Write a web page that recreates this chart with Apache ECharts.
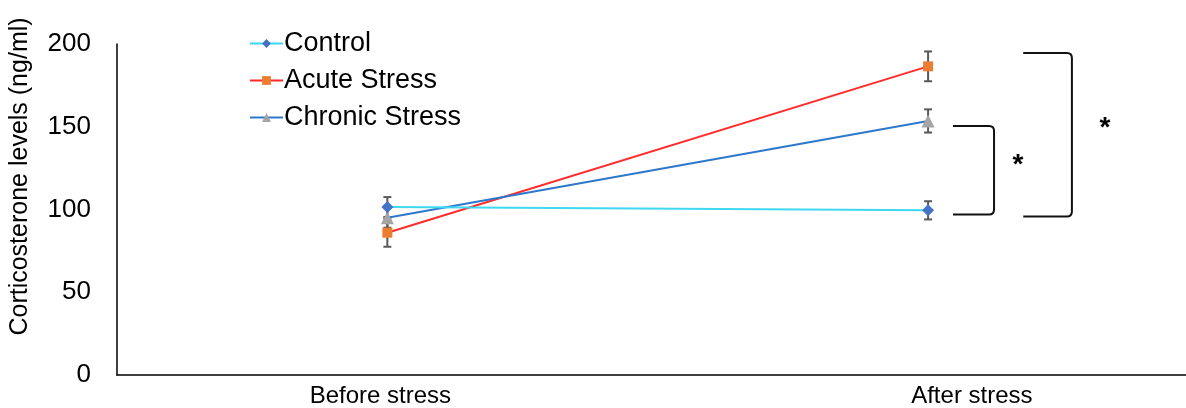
<!DOCTYPE html>
<html>
<head>
<meta charset="utf-8">
<script src="https://cdn.jsdelivr.net/npm/echarts@6/dist/echarts.min.js"></script>
<style>
  html, body { margin: 0; padding: 0; background: #fff; }
  #chart { width: 1186px; height: 408px; }
</style>
</head>
<body>
<div id="chart"></div>
<script>
// Time points (x = 0 before, x = 1 after)
const categories = ['Before stress', 'After stress'];

// Mean corticosterone (ng/ml) and error (±)
const controlMean = [101.5, 99.5];
const controlErr  = [6, 5.5];
const acuteMean   = [86, 186.5];
const acuteErr    = [8.5, 9];
const chronicMean = [95, 153.5];
const chronicErr  = [6, 7];

// Y-axis ticks
const yTicks = [0, 50, 100, 150, 200];

// Significance brackets: [xStart, xEnd, yTop, yBottom]
const bracketSpans = [
  [1.046, 1.122, 150.5, 97],
  [1.176, 1.266, 194.6, 95.8]
];
// Significance marks: [x, y, text]
const sigMarks = [
  [1.166, 127, '*'],
  [1.327, 149, '*']
];

const FONT = '"Liberation Sans", Arial, sans-serif';

function pts(arr) { return arr.map((v, i) => [i, v]); }
function errData(mean, err) { return mean.map((v, i) => [i, v - err[i], v + err[i]]); }

const chart = echarts.init(document.getElementById('chart'));

function errorBarSeries(name, mean, err) {
  return {
    type: 'custom',
    name: name,
    coordinateSystem: 'cartesian2d',
    silent: true,
    z: 1,
    encode: { x: 0, y: [1, 2] },
    data: errData(mean, err),
    renderItem: function (params, api) {
      const x = api.value(0);
      const top = api.coord([x, api.value(2)]);
      const bot = api.coord([x, api.value(1)]);
      const cap = 4;
      const style = { stroke: '#595959', lineWidth: 2 };
      return {
        type: 'group',
        children: [
          { type: 'line', shape: { x1: top[0], y1: top[1], x2: bot[0], y2: bot[1] }, style: style },
          { type: 'line', shape: { x1: top[0] - cap, y1: top[1], x2: top[0] + cap, y2: top[1] }, style: style },
          { type: 'line', shape: { x1: bot[0] - cap, y1: bot[1], x2: bot[0] + cap, y2: bot[1] }, style: style }
        ]
      };
    }
  };
}

const option = {
  backgroundColor: '#fff',
  animation: false,
  textStyle: { fontFamily: FONT },
  grid: { left: 117, right: 0, top: 44, bottom: 32, containLabel: false },
  legend: {
    orient: 'vertical',
    left: 249,
    top: 30,
    padding: 0,
    itemWidth: 33,
    itemHeight: 11,
    itemGap: 10,
    textStyle: { fontSize: 27, color: '#000', fontFamily: FONT, padding: [0, 0, 0, -4] },
    data: ['Control', 'Acute Stress', 'Chronic Stress']
  },
  xAxis: {
    type: 'value',
    min: -0.5,
    max: 1.477,
    splitLine: { show: false },
    axisTick: { show: false },
    axisLine: { show: true, onZero: false, lineStyle: { color: '#000', width: 1.5 } },
    axisLabel: {
      customValues: [-0.013, 1.081],
      margin: 9,
      fontSize: 24,
      color: '#000',
      fontFamily: FONT,
      formatter: function (v) { return categories[v < 0.5 ? 0 : 1]; }
    }
  },
  yAxis: {
    type: 'value',
    min: yTicks[0],
    max: yTicks[yTicks.length - 1],
    interval: yTicks[1] - yTicks[0],
    name: 'Corticosterone levels (ng/ml)',
    nameLocation: 'middle',
    nameGap: 84,
    nameTextStyle: { fontSize: 25, color: '#000', fontFamily: FONT, padding: [0, 0, 0, 66] },
    splitLine: { show: false },
    axisTick: { show: false },
    axisLine: { show: true, onZero: false, lineStyle: { color: '#000', width: 1.5 } },
    axisLabel: { margin: 26, fontSize: 26, color: '#000', fontFamily: FONT, padding: [4, 0, 0, 0] }
  },
  series: [
    errorBarSeries('Control err', controlMean, controlErr),
    errorBarSeries('Acute err', acuteMean, acuteErr),
    errorBarSeries('Chronic err', chronicMean, chronicErr),
    {
      name: 'Acute Stress',
      type: 'line',
      z: 3,
      data: pts(acuteMean),
      symbol: 'rect',
      symbolSize: 10,
      lineStyle: { color: '#FF2B2B', width: 2 },
      itemStyle: { color: '#ED7D31' }
    },
    {
      name: 'Chronic Stress',
      type: 'line',
      z: 3,
      data: pts(chronicMean),
      symbol: 'triangle',
      symbolSize: 13,
      lineStyle: { color: '#2E78CC', width: 2 },
      itemStyle: { color: '#A5A5A5' }
    },
    {
      name: 'Control',
      type: 'line',
      z: 4,
      data: pts(controlMean),
      symbol: 'diamond',
      symbolSize: 12,
      lineStyle: { color: '#3FD8F2', width: 2 },
      itemStyle: { color: '#4472C4' }
    },
    {
      // significance brackets with rounded corners
      type: 'custom',
      name: 'brackets',
      coordinateSystem: 'cartesian2d',
      silent: true,
      encode: { x: [0, 1], y: [2, 3] },
      data: bracketSpans,
      renderItem: function (params, api) {
        const a = api.coord([api.value(0), api.value(2)]);
        const b = api.coord([api.value(1), api.value(3)]);
        const x0 = a[0], x1 = b[0], yt = a[1], yb = b[1], r = 5;
        const d = 'M' + x0 + ' ' + yt + ' L' + (x1 - r) + ' ' + yt +
                  ' Q' + x1 + ' ' + yt + ' ' + x1 + ' ' + (yt + r) +
                  ' L' + x1 + ' ' + (yb - r) +
                  ' Q' + x1 + ' ' + yb + ' ' + (x1 - r) + ' ' + yb +
                  ' L' + x0 + ' ' + yb;
        return { type: 'path', shape: { pathData: d }, style: { stroke: '#111', lineWidth: 2, fill: null } };
      }
    },
    {
      type: 'custom',
      name: 'marks',
      coordinateSystem: 'cartesian2d',
      silent: true,
      encode: { x: 0, y: 1 },
      data: sigMarks,
      renderItem: function (params, api) {
        const p = api.coord([api.value(0), api.value(1)]);
        return {
          type: 'text',
          x: p[0], y: p[1],
          style: {
            text: sigMarks[params.dataIndex][2],
            fontSize: 28, fontWeight: 'bold', fill: '#000', fontFamily: FONT,
            align: 'center', verticalAlign: 'middle'
          }
        };
      }
    }
  ]
};

chart.setOption(option);
</script>
</body>
</html>
